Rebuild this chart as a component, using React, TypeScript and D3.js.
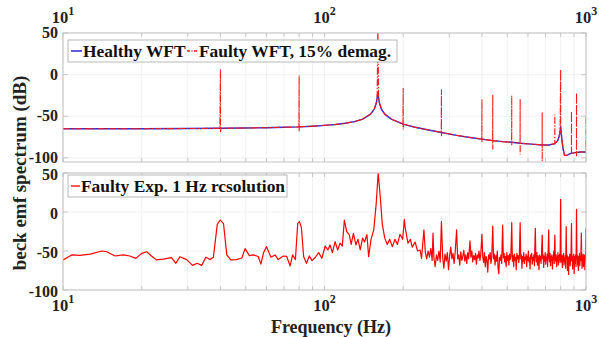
import React from "react";
import * as d3 from "d3";

// ---------- data ----------
const xTickDecades = [10, 100, 1000];
const decadeExponents = ["1", "2", "3"];
const yTicksTop = [-100, -50, 0, 50];
const yTicksBottom = [-100, -50, 0, 50];

const legendTop = ["Healthy WFT", "Faulty WFT, 15% demag."];
const legendBottom = ["Faulty Exp. 1 Hz rcsolution"];
const yTitle = "beck emf spectrum (dB)";
const xTitle = "Frequency (Hz)";

// Healthy WFT (blue solid): [Hz, dB]
const healthy: [number, number][] = [
  [10, -65], [20, -65], [30, -64.8], [40, -64.5], [50, -64.2], [60, -63.8], [70, -63.3], [80, -62.8],
  [90, -62], [100, -61], [110, -60], [120, -58.5], [130, -56.5], [140, -53.5], [150, -47.5], [155, -41.5],
  [158, -33.5], [159, -27.5], [160, -21], [161, -27.5], [162, -33.5], [165, -41.5], [170, -47.5],
  [180, -53.5], [190, -56.5], [200, -59.5], [220, -63], [250, -66.5], [280, -69.5], [320, -73],
  [360, -75.5], [400, -77.5], [440, -79.3], [480, -80.5], [520, -81.3], [560, -82.5], [620, -83.5],
  [680, -84.5], [720, -84.5], [760, -83], [780, -79], [790, -74], [796, -68], [800, -62], [804, -70],
  [810, -80], [818, -90], [828, -97], [845, -97], [870, -95], [900, -94], [950, -93], [1000, -93],
];

// Faulty WFT, 15% demag (red dash-dot), including harmonic spikes: [Hz, dB]
const faulty: [number, number][] = [
  [10, -65], [20, -65], [30, -64.8], [39.8, -64.5], [40, 6], [40, -69], [40.2, -64.5], [50, -64.2],
  [60, -63.8], [70, -63.3], [79.8, -62.8], [80, -1], [80, -68.6], [80.2, -62.8], [90, -62], [100, -61],
  [110, -60], [120, -58.5], [130, -56.5], [140, -53.5], [150, -47.5], [155, -41.5], [158, -33.5],
  [159, -27.5], [160, 60], [161, -27.5], [162, -33.5], [165, -41.5], [170, -47.5], [180, -53.5],
  [190, -56.5], [199.5, -59.5], [200, -16], [200, -66], [200.5, -59.5], [220, -63], [250, -66.5],
  [279.5, -69.5], [280, -18], [280, -74], [280.5, -69.5], [320, -73], [360, -75.5], [399.5, -77.5],
  [400, -30], [400, -81], [400.5, -77.5], [439.5, -79.3], [440, -24], [440, -90], [440.5, -79.3],
  [480, -80.5], [519.5, -81.3], [520, -25.5], [520, -85], [520.5, -81.3], [559.5, -82.5], [560, -29.4],
  [560, -96], [560.5, -82.5], [620, -83.5], [679.5, -84.5], [680, -45.4], [680, -104], [680.5, -84.5],
  [720, -84.5], [759.5, -83], [760, -48], [760, -81], [760.5, -83], [780, -79], [790, -74], [796, -68],
  [800, 6], [800, -62], [804, -70], [810, -80], [818, -90], [828, -97], [845, -97], [870, -95],
  [879.5, -94.5], [880, -44], [880, -92], [880.5, -94.5], [900, -94], [919.5, -93.5], [920, -22],
  [920, -98], [920.5, -93.5], [950, -93], [999.5, -93], [1000, -50],
];

// Faulty experimental spectrum (red): [Hz, dB]
const experiment: [number, number][] = [
  [10, -61.5], [10.8, -55], [11.6, -55.5], [12.7, -54], [14.1, -50], [14.7, -51], [15.8, -56.4],
  [17, -55], [18, -56.4], [19, -59.4], [20, -53], [20.9, -51], [21.8, -56.4], [22.8, -61.5],
  [24.2, -60.5], [26, -58.6], [27, -65.8], [28, -57.3], [29.7, -61], [31.3, -68.4], [32.6, -65.8],
  [33.9, -68.4], [35.2, -58], [36.5, -61], [37.6, -58], [38.9, -15.8], [39.9, -10.3], [41.1, -15],
  [42.3, -55], [43.8, -61.5], [46.1, -61], [48.3, -59], [49.7, -47], [51.6, -56], [53.5, -55],
  [55.8, -57], [57.1, -66.7], [58.5, -52], [60, -44.4], [62.4, -58], [64.7, -55], [66.5, -61],
  [69.6, -56.4], [71.7, -57], [73.9, -69.2], [75.5, -55], [77.4, -61], [79, -14.5], [80.2, -12.4],
  [81.6, -20], [83.2, -57], [85.3, -65.8], [87.5, -56.4], [89.6, -62.4], [92.3, -58], [95, -52],
  [97.7, -59.4], [100.6, -43.6], [103, -48.7], [105, -42.3], [107.2, -52], [109.8, -38], [112.3, -48.7],
  [114.6, -40], [117, -43.6], [119.1, -10.3], [121.6, -25.2], [124.3, -29], [126.5, -41.6], [129, -27.3],
  [131.8, -42.3], [134.3, -35], [137, -48.7], [139.8, -33.5], [142.3, -38.5], [145.3, -29], [147.5, -57.3],
  [150.6, -35], [154.3, -23], [157.7, 11], [160.4, 50], [163.4, 19.6], [166.3, -15.5], [170, -33.5],
  [173.8, -41.6], [177.5, -35], [181.7, -44.4], [186, -35], [190, -41.6], [194.4, -28.6], [199, -35],
  [202, -9.4], [203.5, -20], [208.5, -40], [213, -35], [216.5, -45], [222, -38.5], [227, -50],
  [232, -48.7], [235, -59.4], [240, -23], [243, -52], [246, -60], [249, -50], [252, -58], [255, -47],
  [258, -62], [260, -27], [262, -58], [265, -70], [268, -55], [271, -62], [274, -50], [277, -64],
  [280, -12], [283, -57], [286, -72], [289, -54], [292, -63], [295, -52], [298, -74], [301, -56],
  [304, -45], [307, -60], [310, -53], [313, -66], [316, -52], [320, -23], [323, -60], [326, -55],
  [329, -68], [332, -51], [335, -62], [338, -57], [341, -49], [344, -63], [347, -55], [350, -66],
  [353, -52], [356, -60], [360, -37], [363, -58], [366, -50], [369, -64], [372, -56], [375, -61],
  [378, -53], [381, -67], [384, -55], [387, -59], [390, -50], [393, -62], [396, -54], [400, -28.6],
  [403, -58], [406, -65], [409, -52], [412, -70], [415, -57], [418, -62], [421, -77], [424, -55],
  [427, -60], [430, -52], [433, -66], [436, -58], [440, -18], [443, -60], [446, -54], [449, -68],
  [452, -56], [455, -63], [458, -50], [461, -72], [464, -79], [467, -58], [470, -62], [473, -55],
  [476, -66], [480, -16.7], [483, -59], [486, -53], [489, -64], [492, -57], [495, -70], [498, -52],
  [501, -62], [504, -56], [507, -68], [510, -54], [513, -61], [516, -57], [520, -13.7], [523, -63],
  [526, -56], [529, -70], [532, -54], [535, -62], [538, -58], [541, -74], [544, -53], [547, -60],
  [550, -56], [553, -65], [556, -59], [560, -13.7], [563, -60], [566, -55], [569, -72], [572, -57],
  [575, -63], [578, -52], [581, -66], [584, -58], [587, -61], [590, -54], [593, -70], [596, -57],
  [599, -62], [602, -50], [605, -64], [608, -58], [611, -73], [614, -55], [617, -60], [620, -53],
  [623, -67], [626, -58], [629, -62], [632, -55], [635, -69], [640, -21], [643, -58], [646, -64],
  [649, -52], [652, -68], [655, -56], [658, -61], [661, -74], [664, -55], [667, -62], [670, -57],
  [673, -66], [676, -54], [680, -29.5], [683, -60], [686, -55], [689, -71], [692, -57], [695, -63],
  [698, -52], [701, -67], [704, -58], [707, -61], [710, -54], [713, -70], [716, -56], [720, -23],
  [723, -59], [726, -64], [729, -53], [732, -69], [735, -57], [738, -62], [741, -55], [744, -73],
  [747, -58], [750, -61], [753, -50], [756, -66], [760, -29.5], [763, -57], [766, -63], [769, -55],
  [772, -70], [775, -58], [778, -62], [781, -52], [784, -68], [787, -56], [790, -61], [793, -54],
  [796, -65], [800, 16.3], [803, -58], [806, -64], [809, -55], [812, -71], [815, -57], [818, -62],
  [821, -53], [824, -68], [827, -59], [830, -63], [833, -56], [836, -72], [840, -18.7], [843, -60],
  [846, -55], [849, -75], [852, -57], [855, -64], [858, -80], [861, -58], [864, -62], [867, -54],
  [870, -69], [873, -57], [876, -63], [880, -15], [883, -61], [886, -56], [889, -73], [892, -58],
  [895, -64], [898, -54], [901, -79], [904, -60], [907, -57], [910, -66], [913, -55], [916, -70],
  [920, 3.4], [923, -60], [926, -55], [929, -68], [932, -57], [935, -75], [938, -59], [941, -63],
  [944, -53], [947, -69], [950, -58], [953, -62], [956, -56], [960, -27], [963, -60], [966, -72],
  [969, -57], [972, -64], [975, -54], [978, -70], [981, -58], [984, -63], [987, -55], [990, -74],
  [993, -59], [996, -62], [1000, -21],
];

// ---------- layout ----------
const W = 599;
const H = 337;
const L = 63;
const R = 586;
const topPlot = { y0: 33, y1: 162, dom: [-105, 50] as [number, number], labelShift: 5 };
const botPlot = { y0: 173, y1: 290, dom: [-100, 50] as [number, number], labelShift: 7 };
const FONT = "'Liberation Serif', 'Times New Roman', serif";
const BOX = "#bcbcbc";
const GRID = "#ebebeb";

const x = d3.scaleLog().domain([10, 1000]).range([L, R]);
const minorTicks: number[] = [];
for (let d = 10; d < 1000; d *= 10) for (let k = 1; k < 10; k++) minorTicks.push(d * k);
minorTicks.push(1000);

function Panel({ p, yTicks, id, children }: any) {
  const y = d3.scaleLinear().domain(p.dom).range([p.y1, p.y0]);
  return (
    <g>
      <defs>
        <clipPath id={id}>
          <rect x={L} y={p.y0} width={R - L} height={p.y1 - p.y0} />
        </clipPath>
      </defs>
      <rect x={L} y={p.y0} width={R - L} height={p.y1 - p.y0} fill="#fff" />
      {minorTicks.map((t) => (
        <line key={"gx" + t} x1={x(t)} x2={x(t)} y1={p.y0} y2={p.y1} stroke={GRID} strokeWidth={0.7} />
      ))}
      {yTicks.map((t: number) => (
        <line key={"gy" + t} x1={L} x2={R} y1={y(t)} y2={y(t)} stroke={GRID} strokeWidth={0.7} />
      ))}
      <g clipPath={`url(#${id})`}>{children(y)}</g>
      <rect x={L} y={p.y0} width={R - L} height={p.y1 - p.y0} fill="none" stroke={BOX} strokeWidth={0.9} />
      {minorTicks.map((t) => (
        <g key={"tx" + t}>
          <line x1={x(t)} x2={x(t)} y1={p.y1} y2={p.y1 - 4} stroke={BOX} strokeWidth={0.8} />
          <line x1={x(t)} x2={x(t)} y1={p.y0} y2={p.y0 + 4} stroke={BOX} strokeWidth={0.8} />
        </g>
      ))}
      {yTicks.map((t: number) => (
        <g key={"ty" + t}>
          <line x1={L} x2={L + 5} y1={y(t)} y2={y(t)} stroke={BOX} strokeWidth={0.8} />
          <line x1={R} x2={R - 5} y1={y(t)} y2={y(t)} stroke={BOX} strokeWidth={0.8} />
          <text x={58} y={y(t) + p.labelShift} textAnchor="end" fontSize={16} fontWeight="bold" fontFamily={FONT} fill="#222">
            {t}
          </text>
        </g>
      ))}
    </g>
  );
}

function DecadeLabels({ baseline }: { baseline: number }) {
  return (
    <g>
      {xTickDecades.map((d, i) => (
        <text key={d} x={x(d)} y={baseline} textAnchor="middle" fontSize={16.5} fontWeight="bold" fontFamily={FONT} fill="#222">
          10
          <tspan dy={-8} fontSize={12}>
            {decadeExponents[i]}
          </tspan>
        </text>
      ))}
    </g>
  );
}

export default function App() {
  const line = (y: any) =>
    d3
      .line<[number, number]>()
      .x((d) => x(d[0]))
      .y((d) => y(d[1]));

  return (
    <svg width={W} height={H} style={{ position: "absolute", left: 0, top: 0, background: "#fff" }}>
      <rect width={W} height={H} fill="#fff" />
      <Panel p={topPlot} yTicks={yTicksTop} id="clipTop">
        {(y: any) => (
          <g>
            <path d={line(y)(healthy) || ""} fill="none" stroke="#2a2ad0" strokeWidth={1.4} />
            <path d={line(y)(faulty) || ""} fill="none" stroke="#ff1a1a" strokeWidth={1.1} strokeDasharray="7,1.5,1.5,1.5" />
          </g>
        )}
      </Panel>
      <Panel p={botPlot} yTicks={yTicksBottom} id="clipBot">
        {(y: any) => <path d={line(y)(experiment) || ""} fill="none" stroke="#f00" strokeWidth={1.2} strokeLinejoin="round" />}
      </Panel>

      {/* top legend */}
      <rect x={68} y={40} width={329} height={22} fill="#fff" stroke="#a8a8a8" strokeWidth={0.8} />
      <line x1={71} x2={82} y1={51} y2={51} stroke="#2a2ad0" strokeWidth={1.5} />
      <text x={83} y={57} fontSize={17.4} fontWeight="bold" fontFamily={FONT} fill="#111">
        {legendTop[0]}
      </text>
      <line x1={187} x2={198} y1={51} y2={51} stroke="#ff1a1a" strokeWidth={1.3} strokeDasharray="3,1.5,1,1.5" />
      <text x={199} y={57} fontSize={17.4} fontWeight="bold" fontFamily={FONT} fill="#111">
        {legendTop[1]}
      </text>

      {/* bottom legend */}
      <rect x={68} y={175} width={219} height={22} fill="#fff" stroke="#a8a8a8" strokeWidth={0.8} />
      <line x1={71} x2={80} y1={186} y2={186} stroke="#f00" strokeWidth={1.3} />
      <text x={81} y={192} fontSize={17.4} fontWeight="bold" fontFamily={FONT} fill="#111">
        {legendBottom[0]}
      </text>

      <DecadeLabels baseline={23} />
      <DecadeLabels baseline={311} />

      <text x={331} y={333} textAnchor="middle" fontSize={18} fontWeight="bold" fontFamily={FONT} fill="#222">
        {xTitle}
      </text>
      <text
        transform={`translate(26,173) rotate(-90)`}
        textAnchor="middle"
        fontSize={19}
        fontWeight="bold"
        fontFamily={FONT}
        fill="#222"
      >
        {yTitle}
      </text>
    </svg>
  );
}
